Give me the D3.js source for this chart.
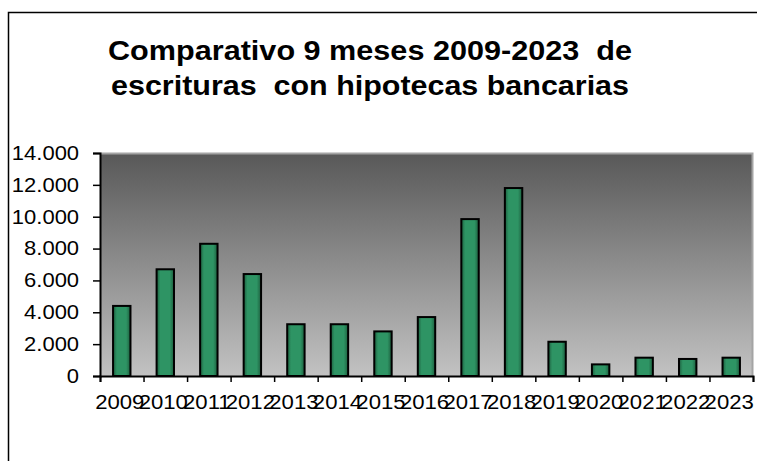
<!DOCTYPE html>
<html>
<head>
<meta charset="utf-8">
<script src="https://cdn.jsdelivr.net/npm/d3@7"></script>
<style>
  html, body { margin: 0; padding: 0; background: #fff; }
  svg { display: block; font-family: Arial, "Liberation Sans", sans-serif; }
</style>
</head>
<body>
<svg id="chart" width="757" height="461"></svg>
<script>
// datos: escrituras con hipotecas bancarias, 9 meses de cada año
let years = ["2009", "2010", "2011", "2012", "2013", "2014", "2015", "2016",
             "2017", "2018", "2019", "2020", "2021", "2022", "2023"]
let escrituras = [4400, 6700, 8300, 6400, 3250, 3250, 2800, 3700,
                  9850, 11800, 2150, 730, 1150, 1070, 1150]
let yTicks = [0, 2000, 4000, 6000, 8000, 10000, 12000, 14000]
let titleLines = ["Comparativo 9 meses 2009-2023  de", "escrituras  con hipotecas bancarias"]

let loadChart = () => {

    let svg = d3.select("#chart")

    let left = 100, right = 753, top = 153, bottom = 376

    let es = d3.formatLocale({ decimal: ",", thousands: ".", grouping: [3], currency: ["", "€"] })
    let fmt = es.format(",")

    // marco exterior
    svg.append("path")
        .attr("d", "M8.5,461 V12.5 H757")
        .attr("fill", "none")
        .attr("stroke", "#000")
        .attr("stroke-width", 1.5)

    // titulo (con los dobles espacios del original)
    let title = svg.append("text")
        .attr("text-anchor", "middle")
        .attr("font-weight", "bold")
        .attr("font-size", 28)
        .attr("fill", "#000")
        .style("white-space", "pre")
    title.append("tspan").attr("x", 370).attr("y", 60)
        .attr("textLength", 524).attr("lengthAdjust", "spacingAndGlyphs")
        .text(titleLines[0])
    title.append("tspan").attr("x", 370).attr("y", 95)
        .attr("textLength", 518).attr("lengthAdjust", "spacingAndGlyphs")
        .text(titleLines[1])

    let defs = svg.append("defs")

    let bg = defs.append("linearGradient").attr("id", "bg")
        .attr("x1", 0).attr("y1", 0).attr("x2", 0).attr("y2", 1)
    bg.append("stop").attr("offset", "0%").attr("stop-color", "#585858")
    bg.append("stop").attr("offset", "100%").attr("stop-color", "#c2c2c2")

    let barGrad = defs.append("linearGradient").attr("id", "barGrad")
        .attr("x1", 0).attr("y1", 0).attr("x2", 1).attr("y2", 0)
    barGrad.append("stop").attr("offset", "0%").attr("stop-color", "#1d5e3e")
    barGrad.append("stop").attr("offset", "22%").attr("stop-color", "#2e9464")
    barGrad.append("stop").attr("offset", "75%").attr("stop-color", "#2e9464")
    barGrad.append("stop").attr("offset", "100%").attr("stop-color", "#1d5e3e")

    // escalas
    let x = d3.scaleBand().domain(years).range([left, right])
        .paddingInner(0.6).paddingOuter(0.3)
    let xEdge = d3.scaleLinear().domain([0, years.length]).range([left, right])
    let y = d3.scaleLinear().domain([0, 14000]).range([bottom, top])

    // fondo del area de trazado
    svg.append("rect")
        .attr("x", left).attr("y", top)
        .attr("width", right - left).attr("height", bottom - top)
        .attr("fill", "url(#bg)")
    svg.append("path")
        .attr("d", `M${left},${top + 0.5} H${right - 0.5} V${bottom}`)
        .attr("fill", "none")
        .attr("stroke", "#a4a4a4")
        .attr("stroke-width", 2)

    // barras
    svg.selectAll(".bar")
        .data(years)
        .enter().append("rect")
        .attr("class", "bar")
        .attr("x", d => x(d))
        .attr("y", (d, i) => y(escrituras[i]))
        .attr("width", x.bandwidth())
        .attr("height", (d, i) => bottom - y(escrituras[i]))
        .attr("fill", "url(#barGrad)")
        .attr("stroke", "#000")
        .attr("stroke-width", 2)

    // eje y
    let gy = svg.append("g")
        .attr("transform", `translate(${left},0)`)
        .call(d3.axisLeft(y).tickValues(yTicks).tickFormat(fmt).tickSize(7).tickPadding(12))
    gy.select(".domain").attr("stroke", "#000").attr("stroke-width", 2)
    gy.selectAll(".tick line").attr("stroke", "#000").attr("stroke-width", 1.5)
    gy.selectAll(".tick text")
        .attr("font-size", 20)
        .attr("fill", "#000")
        .attr("transform", "scale(1.1,1)")
        .attr("x", -19)

    // eje x: marcas en los limites de cada categoria
    let gx = svg.append("g")
        .attr("transform", `translate(0,${bottom})`)
        .call(d3.axisBottom(xEdge).tickValues(d3.range(years.length + 1)).tickFormat("").tickSize(6))
    gx.select(".domain").attr("stroke", "#000").attr("stroke-width", 2)
    gx.selectAll(".tick line").attr("stroke", "#000").attr("stroke-width", 1.5)

    let gxl = svg.append("g")
        .attr("transform", `translate(-2,${bottom})`)
        .call(d3.axisBottom(x).tickSize(0).tickPadding(18))
    gxl.select(".domain").remove()
    gxl.selectAll(".tick text")
        .attr("font-size", 20.5)
        .attr("fill", "#000")
        .attr("transform", "scale(1.08,1)")
}

window.addEventListener('DOMContentLoaded', (event) => {
    loadChart()
});
</script>
</body>
</html>
